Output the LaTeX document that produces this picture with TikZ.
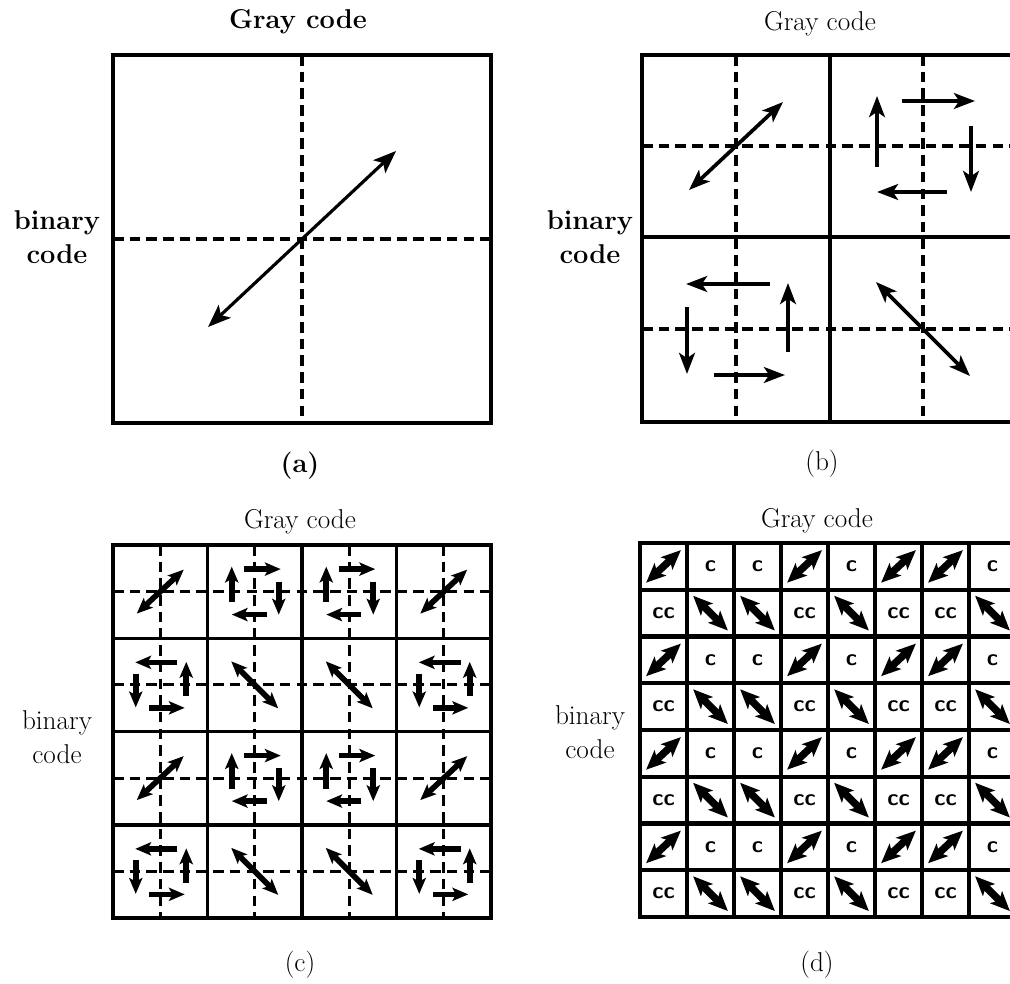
\documentclass[tikz,border=0pt]{standalone}
\usetikzlibrary{arrows.meta}
% arrows of one cell, centred at (#1,#2), scaled by #3, drawn in style #4
\newcommand{\diagNE}[4]{\begin{scope}[shift={(#1,#2)},scale=#3]\draw[#4,<->] (-47,44)--(47,-44);\end{scope}}
\newcommand{\diagNW}[4]{\begin{scope}[shift={(#1,#2)},scale=#3]\draw[#4,<->] (-47,-47)--(47,47);\end{scope}}
\newcommand{\loopcw}[4]{\begin{scope}[shift={(#1,#2)},scale=#3]\draw[#4,->] (-46,21)--(-46,-50);\draw[#4,->] (-21,-45)--(52,-45);\draw[#4,->] (48,-20)--(48,46);\draw[#4,->] (24,46)--(-46,46);\end{scope}}
\newcommand{\loopccw}[4]{\begin{scope}[shift={(#1,#2)},scale=#3]\draw[#4,->] (34,-45)--(-50,-45);\draw[#4,->] (-49,-22)--(-49,45);\draw[#4,->] (-22,46)--(49,46);\draw[#4,->] (52,23)--(52,-46);\end{scope}}

\begin{document}
\begin{tikzpicture}[x=0.02cm,y=-0.02cm,
  frame/.style={line width=2pt},
  midline/.style={line width=1.8pt,dash pattern=on 6pt off 3.5pt},
  arA/.style={line width=1.8pt,>={Stealth[length=13pt,width=10pt,inset=3pt]}},
  arB/.style={line width=2.1pt,>={Stealth[length=12pt,width=9pt,inset=3pt]}},
  arC/.style={line width=3.2pt,>={Stealth[length=9pt,width=7.5pt,inset=2pt]}},
  arD/.style={line width=4.2pt,>={Stealth[length=11pt,width=9.5pt,inset=2.5pt]}},
  lbl/.style={font=\fontsize{15.5}{19}\selectfont,align=center},
  cell/.style={font=\sffamily\bfseries\fontsize{13}{15}\selectfont}]
\clip (0,0) rectangle (1010,983);
\fill[white] (0,0) rectangle (1010,983);

% (a)
\draw[midline] (302,55)--(302,423);\draw[midline] (113,239)--(491,239);
\draw[frame] (113,55) rectangle (491,423);
\diagNE{302}{239}{2}{arA}
\node[lbl,font=\bfseries\fontsize{15.5}{19}\selectfont] (grayA) at (298,22){Gray code};
\node[lbl,font=\bfseries\fontsize{15.5}{19}\selectfont] (binA) at (57,237){binary\\code};
\node[lbl,font=\bfseries\fontsize{15.5}{19}\selectfont] (capA) at (300,466){(a)};

% (b)
\foreach \k in {736,923}{\draw[midline] (\k,55)--(\k,422);}
\foreach \k in {146,329}{\draw[midline] (642,\k)--(1018,\k);}
\draw[frame] (642,55) rectangle (1018,422);
\draw[frame] (830,55)--(830,422);\draw[frame] (642,237)--(1018,237);
\diagNE{736}{146}{1}{arB}
\loopcw{923}{146}{1}{arB}
\loopccw{736}{329}{1}{arB}
\diagNW{923}{329}{1}{arB}
\node[lbl] (grayB) at (820,24){Gray code};
\node[lbl,font=\bfseries\fontsize{15.5}{19}\selectfont] (binB) at (590,237){binary\\code};
\node[lbl] (capB) at (822,464){(b)};

% (c)
\foreach \k in {0,...,3}{
  \draw[midline] (160.25+94.5*\k,545)--++(0,373);
  \draw[midline] (113,591.6+93.25*\k)--++(378,0);
}
\foreach \k in {1,2,3}{
  \draw[frame] (113+94.5*\k,545)--++(0,373);
  \draw[frame] (113,545+93.25*\k)--++(378,0);
}
\draw[frame] (113,545) rectangle (491,918);
\foreach \t [count=\i from 0] in {A,B,B,A}{
  \foreach \j in {0,...,3}{
    \pgfmathsetmacro{\cx}{160.25+94.5*\i}
    \pgfmathsetmacro{\cy}{591.6+93.25*\j}
    \ifodd\j
      \if\t A\loopccw{\cx}{\cy}{0.5}{arC}\else\diagNW{\cx}{\cy}{0.5}{arC}\fi
    \else
      \if\t A\diagNE{\cx}{\cy}{0.5}{arC}\else\loopcw{\cx}{\cy}{0.5}{arC}\fi
    \fi
  }
}
\node[lbl] (grayC) at (300,522){Gray code};
\node[lbl] (binC) at (57,737){binary\\code};
\node[lbl] (capC) at (300,965){(c)};

% (d)
\foreach \k in {1,...,7}{
  \draw[frame,line width=2.4pt] (640+47*\k,543)--++(0,374);
  \draw[frame,line width=2.4pt] (640,543+46.75*\k)--++(376,0);
}
\draw[frame,line width=2.4pt] (640,543) rectangle (1016,917);
\foreach \t [count=\i from 0] in {A,B,B,A,B,A,A,B}{
  \foreach \j in {0,...,7}{
    \pgfmathsetmacro{\cx}{663.5+47*\i}
    \pgfmathsetmacro{\cy}{566.4+46.75*\j}
    \ifodd\j
      \if\t A\node[cell] (d-\i-\j) at (\cx,\cy){cc};\else\diagNW{\cx}{\cy}{0.37}{arD}\fi
    \else
      \if\t A\diagNE{\cx}{\cy}{0.37}{arD}\else\node[cell] (d-\i-\j) at (\cx,\cy){c};\fi
    \fi
  }
}
\node[lbl] (grayD) at (817,521){Gray code};
\node[lbl] (binD) at (590,732){binary\\code};
\node[lbl] (capD) at (817,965){(d)};
\end{tikzpicture}
\end{document}
